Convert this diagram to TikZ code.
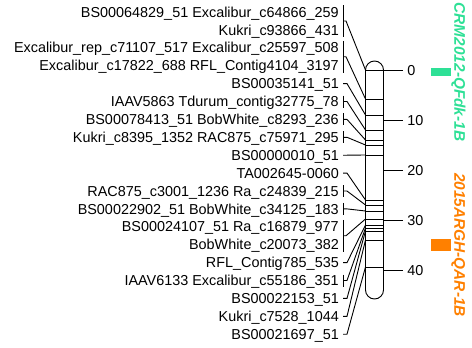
\documentclass[tikz,border=0pt]{standalone}
\usepackage{fontspec}
\setmainfont{Liberation Sans}
\usepackage{xcolor}
\usepackage{tikz}
\usetikzlibrary{positioning, calc}
\definecolor{qtlGreen}{RGB}{46, 224, 150}
\definecolor{qtlOrange}{RGB}{255, 128, 0}
\definecolor{mapBlack}{RGB}{0, 0, 0}

\begin{document}
\begin{tikzpicture}[
    x=1pt, y=-1pt,
    node distance=17.9pt,
    marker/.style={
        anchor=east,
        inner sep=0pt,
        text height=10.3pt,
        text depth=0pt,
        font=\fontsize{14.4}{17}\selectfont
    },
    scalenum/.style={
        anchor=west,
        inner sep=0pt,
        text height=10.3pt,
        text depth=0pt,
        xshift=4pt,
        font=\fontsize{14.4}{17}\selectfont
    },
    link/.style={
        line width=0.9pt,
        color=mapBlack
    },
    qtl/.style={
        rectangle,
        inner sep=0pt,
        minimum width=20pt,
        draw=none
    },
    qtlname/.style={
        rotate=-90,
        inner sep=0pt,
        text height=11pt,
        text depth=0pt,
        font=\fontsize{15.4}{18}\selectfont\bfseries\itshape
    }
]
\useasboundingbox (0,0) rectangle (472,348);

% Marker names
\node[marker] (m1) at (339, 12) {BS00064829\_51 Excalibur\_c64866\_259};
\node[marker, below=of m1.east, anchor=east] (m2) {Kukri\_c93866\_431};
\node[marker, below=of m2.east, anchor=east] (m3) {Excalibur\_rep\_c71107\_517 Excalibur\_c25597\_508};
\node[marker, below=of m3.east, anchor=east] (m4) {Excalibur\_c17822\_688 RFL\_Contig4104\_3197};
\node[marker, below=of m4.east, anchor=east] (m5) {BS00035141\_51};
\node[marker, below=of m5.east, anchor=east] (m6) {IAAV5863 Tdurum\_contig32775\_78};
\node[marker, below=of m6.east, anchor=east] (m7) {BS00078413\_51 BobWhite\_c8293\_236};
\node[marker, below=of m7.east, anchor=east] (m8) {Kukri\_c8395\_1352 RAC875\_c75971\_295};
\node[marker, below=of m8.east, anchor=east] (m9) {BS00000010\_51};
\node[marker, below=of m9.east, anchor=east] (m10) {TA002645-0060};
\node[marker, below=of m10.east, anchor=east] (m11) {RAC875\_c3001\_1236 Ra\_c24839\_215};
\node[marker, below=of m11.east, anchor=east] (m12) {BS00022902\_51 BobWhite\_c34125\_183};
\node[marker, below=of m12.east, anchor=east] (m13) {BS00024107\_51 Ra\_c16879\_977};
\node[marker, below=of m13.east, anchor=east] (m14) {BobWhite\_c20073\_382};
\node[marker, below=of m14.east, anchor=east] (m15) {RFL\_Contig785\_535};
\node[marker, below=of m15.east, anchor=east] (m16) {IAAV6133 Excalibur\_c55186\_351};
\node[marker, below=of m16.east, anchor=east] (m17) {BS00022153\_51};
\node[marker, below=of m17.east, anchor=east] (m18) {Kukri\_c7528\_1044};
\node[marker, below=of m18.east, anchor=east] (m19) {BS00021697\_51};

% Positions on the linkage group
\coordinate (p1) at (365.5, 70);
\coordinate (p3) at (365.5, 99);
\coordinate (p5) at (365.5, 115);
\coordinate (p6) at (365.5, 130);
\coordinate (p7) at (365.5, 140);
\coordinate (p8) at (365.5, 145);
\coordinate (p9) at (365.5, 155);
\coordinate (p10) at (365.5, 200);
\coordinate (p11) at (365.5, 205);
\coordinate (p12) at (365.5, 211);
\coordinate (p13) at (365.5, 219);
\coordinate (p15) at (365.5, 225);
\coordinate (p16) at (365.5, 228);
\coordinate (p17) at (365.5, 231);
\coordinate (p18) at (365.5, 240);
\coordinate (p19) at (365.5, 267);

% Chromosome
\draw[link, rounded corners=9pt] (365.5, 61) rectangle (383.5, 299);
\draw[link] (p1) -- ++(18, 0);
\draw[link] (p3) -- ++(18, 0);
\draw[link] (p5) -- ++(18, 0);
\draw[link] (p6) -- ++(18, 0);
\draw[link] (p7) -- ++(18, 0);
\draw[link] (p8) -- ++(18, 0);
\draw[link] (p9) -- ++(18, 0);
\draw[link] (p10) -- ++(18, 0);
\draw[link] (p11) -- ++(18, 0);
\draw[link] (p12) -- ++(18, 0);
\draw[link] (p13) -- ++(18, 0);
\draw[link] (p15) -- ++(18, 0);
\draw[link] (p16) -- ++(18, 0);
\draw[link] (p17) -- ++(18, 0);
\draw[link] (p18) -- ++(18, 0);
\draw[link] (p19) -- ++(18, 0);

% Brackets
\draw[link] ([xshift=4pt, yshift=7pt]m1.east) -- ([xshift=4pt, yshift=-7pt]m2.east);
\draw[link] ([xshift=4pt, yshift=7pt]m3.east) -- ([xshift=4pt, yshift=-7pt]m4.east);
\draw[link] ([xshift=4pt, yshift=6pt]m6.east) -- ([xshift=4pt, yshift=-6pt]m6.east);
\draw[link] ([xshift=4pt, yshift=6pt]m7.east) -- ([xshift=4pt, yshift=-6pt]m7.east);
\draw[link] ([xshift=4pt, yshift=6pt]m8.east) -- ([xshift=4pt, yshift=-6pt]m8.east);
\draw[link] ([xshift=4pt, yshift=6pt]m11.east) -- ([xshift=4pt, yshift=-6pt]m11.east);
\draw[link] ([xshift=4pt, yshift=6pt]m12.east) -- ([xshift=4pt, yshift=-6pt]m12.east);
\draw[link] ([xshift=4pt, yshift=7pt]m13.east) -- ([xshift=4pt, yshift=-7pt]m14.east);
\draw[link] ([xshift=4pt, yshift=6pt]m16.east) -- ([xshift=4pt, yshift=-6pt]m16.east);

% Connectors
\draw[link] ($([xshift=4pt]m1.east)!0.5!([xshift=4pt]m2.east)$) -- ++(3, 0) -- (p1);
\draw[link] ($([xshift=4pt]m3.east)!0.5!([xshift=4pt]m4.east)$) -- ++(3, 0) -- (p3);
\draw[link] ([xshift=4pt]m5.east) -- ++(4, 0) -- (p5);
\draw[link] ([xshift=4pt]m6.east) -- ++(4, 0) -- (p6);
\draw[link] ([xshift=4pt]m7.east) -- ++(4, 0) -- (p7);
\draw[link] ([xshift=4pt]m8.east) -- ++(4, 0) -- (p8);
\draw[link] ([xshift=4pt]m9.east) -- ++(4, 0) -- (p9);
\draw[link] ([xshift=4pt]m10.east) -- ++(4, 0) -- (p10);
\draw[link] ([xshift=4pt]m11.east) -- ++(4, 0) -- (p11);
\draw[link] ([xshift=4pt]m12.east) -- ++(4, 0) -- (p12);
\draw[link] ($([xshift=4pt]m13.east)!0.5!([xshift=4pt]m14.east)$) -- ++(3, 0) -- (p13);
\draw[link] ([xshift=4pt]m15.east) -- ++(4, 0) -- (p15);
\draw[link] ([xshift=4pt]m16.east) -- ++(4, 0) -- (p16);
\draw[link] ([xshift=4pt]m17.east) -- ++(4, 0) -- (p17);
\draw[link] ([xshift=4pt]m18.east) -- ++(4, 0) -- (p18);
\draw[link] ([xshift=4pt]m19.east) -- ++(4, 0) -- (p19);

% Scale (cM)
\draw[link] (383.5, 70) -- (403, 70) node[scalenum] (t0) {0};
\draw[link] (383.5, 120) -- (403, 120) node[scalenum] (t10) {10};
\draw[link] (383.5, 170) -- (403, 170) node[scalenum] (t20) {20};
\draw[link] (383.5, 220) -- (403, 220) node[scalenum] (t30) {30};
\draw[link] (383.5, 270) -- (403, 270) node[scalenum] (t40) {40};

% QTL
\node[qtl, fill=qtlGreen, minimum height=8pt] (qA) at (441, 72) {};
\node[qtl, fill=qtlOrange, minimum height=12pt] (qB) at (441, 245) {};
\node[qtlname, text=qtlGreen, right=3pt of qA, anchor=south] (nA) {CRM2012-QFdk-1B};
\node[qtlname, text=qtlOrange, right=3pt of qB, anchor=south] (nB) {2015ARGH-QAR-1B};

\end{tikzpicture}
\end{document}
